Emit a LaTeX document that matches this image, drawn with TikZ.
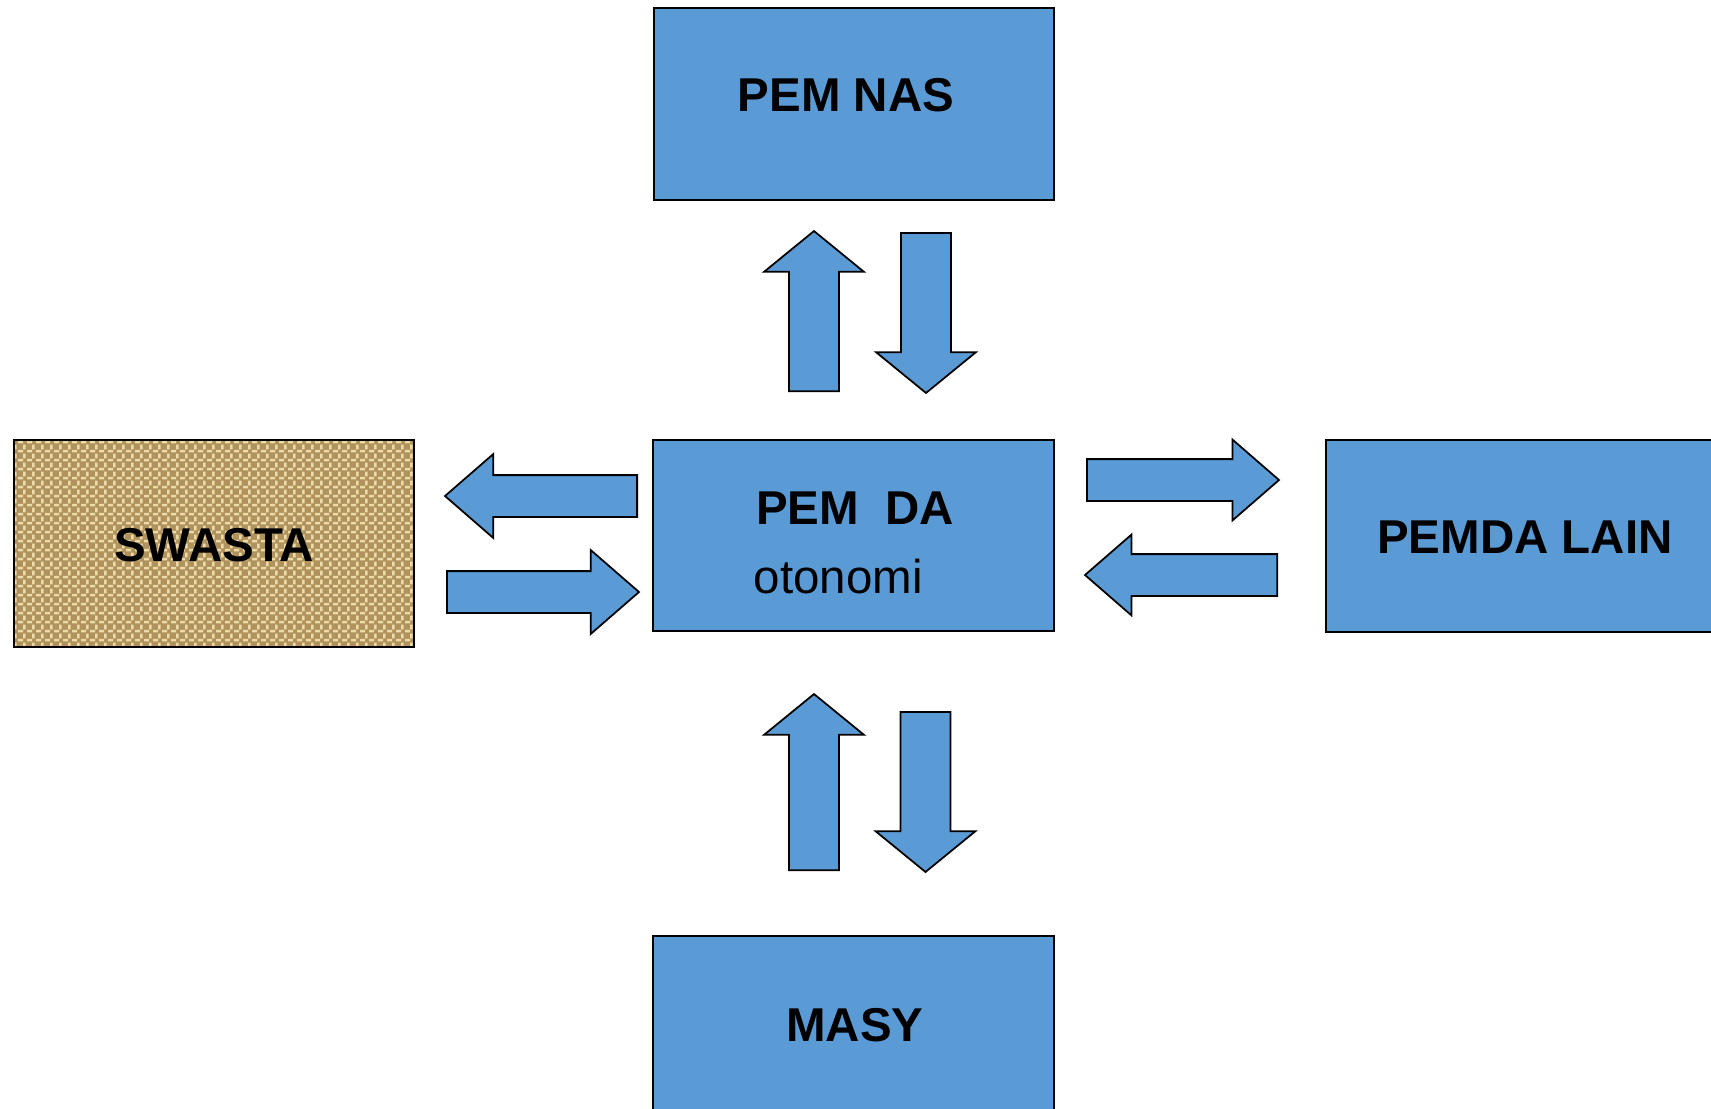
\documentclass[tikz,border=0pt]{standalone}
\usepackage{fontspec}
\setmainfont{Liberation Sans}
\usetikzlibrary{shapes.arrows, patterns}

\definecolor{boxblue}{RGB}{91,155,213}
\definecolor{burlap}{RGB}{176,146,92}
\definecolor{burlaplight}{RGB}{236,218,168}

% weave texture for the SWASTA box
\pgfdeclarepatternformonly{weave}{\pgfpointorigin}{\pgfpoint{2.6pt}{2.6pt}}{\pgfpoint{2.6pt}{2.6pt}}{
  \pgfsetlinewidth{0.8pt}
  \pgfpathmoveto{\pgfpoint{0pt}{0.6pt}}\pgfpathlineto{\pgfpoint{1.6pt}{0.6pt}}
  \pgfpathmoveto{\pgfpoint{2pt}{1.1pt}}\pgfpathlineto{\pgfpoint{2pt}{2.6pt}}
  \pgfusepath{stroke}
}

\tikzset{
  box/.style={draw=black, line width=0.6pt, fill=boxblue, minimum width=4cm, minimum height=1.92cm, inner sep=0pt},
  lbl/.style={font=\fontsize{13.5}{16}\selectfont\bfseries, inner sep=0pt},
  flow/.style={single arrow, draw=black, line width=0.5pt, fill=boxblue, inner xsep=0pt, anchor=tail},
  vflow/.style={flow, inner ysep=0.24cm, single arrow head extend=0.25cm, single arrow tip angle=101.5},
  hflow/.style={flow, inner ysep=0.2cm, minimum height=1.92cm, single arrow head extend=0.21cm, single arrow tip angle=82}
}

\begin{document}
\begin{tikzpicture}[x=0.01cm, y=-0.01cm]
\useasboundingbox (0,0) rectangle (1711,1108);
\clip (0,0) rectangle (1711,1108);

% boxes
\node[box] (pemnas) at (854,104) {};
\node[box, minimum height=1.91cm] (pemda) at (853.5,535.5) {};
\node[box] (pemdalain) at (1526,536) {};
\node[box, fill=burlap, minimum height=2.07cm,
  path picture={\fill[pattern=weave, pattern color=burlaplight]
    (path picture bounding box.south west) rectangle (path picture bounding box.north east);}] (swasta) at (214,543.5) {};
\node[box] (masy) at (853.5,1032) {};

% labels
\node[lbl] at (846,95) {PEM NAS};
\node[lbl] at (855,508.5) {PEM~~DA};
\node[lbl, font=\fontsize{13.5}{16}\selectfont, anchor=base west] at (753,593) {otonomi};
\node[lbl] at (1525,537) {PEMDA LAIN};
\node[lbl] at (214,545) {SWASTA};
\node[lbl] at (855,1025) {MASY};

% arrows
\node[vflow, minimum height=1.6cm, rotate=90] (up1) at (814,392) {};
\node[vflow, minimum height=1.6cm, rotate=-90] (down1) at (926,232) {};
\node[vflow, minimum height=1.76cm, rotate=90] (up2) at (814,871) {};
\node[vflow, minimum height=1.6cm, rotate=-90] (down2) at (925.5,711) {};
\node[hflow, rotate=180] (left1) at (638,496) {};
\node[hflow] (right1) at (446,592) {};
\node[hflow, single arrow head extend=0.195cm] (right2) at (1086,480) {};
\node[hflow, single arrow head extend=0.195cm, rotate=180] (left2) at (1278,575) {};
\end{tikzpicture}
\end{document}
